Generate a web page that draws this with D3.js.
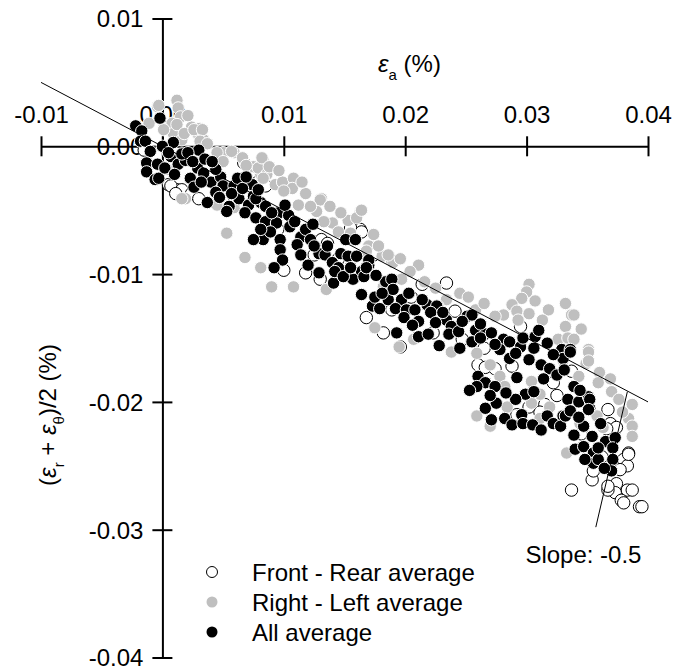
<!DOCTYPE html>
<html>
<head>
<meta charset="utf-8">
<script src="https://cdn.jsdelivr.net/npm/d3@7"></script>
<style>
  body { margin: 0; background: #fff; }
  text { font-family: "Liberation Sans", Arial, sans-serif; }
</style>
</head>
<body>
<div id="chart"></div>
<script>
// tick values
const xTicks = [-0.01, 0, 0.01, 0.02, 0.03, 0.04];
const yTicks = [0.01, 0, -0.01, -0.02, -0.03, -0.04];

// Front - Rear average (open circles), [x, y]
const frontRear = [
  [0.0005,-0.003],[0.0012,-0.0034],[0.0067,-0.0013],[0.0007,-0.0031],[0.0016,-0.0034],[0.0024,-0.0037],
  [0.003,-0.0041],[0.0011,-0.0037],[0.0059,-0.0044],[-0.0011,-0.0004],[-0.0015,-0.0003],[0.0072,-0.0021],
  [0.0085,-0.0031],[0.0131,-0.0073],[0.0125,-0.0085],[0.0118,-0.0099],[0.01,-0.0097],[0.0163,-0.0065],
  [0.0155,-0.0064],[0.0136,-0.0076],[0.013,-0.0104],[0.0164,-0.0067],[0.0168,-0.0134],[0.0182,-0.0146],
  [0.0234,-0.0107],[0.0214,-0.0108],[0.019,-0.009],[0.0196,-0.0157],[0.0223,-0.0146],[0.0247,-0.0151],
  [0.0241,-0.0129],[0.0174,-0.0085],[0.0189,-0.0128],[0.026,-0.0171],[0.0266,-0.0173],[0.0274,-0.0174],
  [0.0288,-0.0172],[0.0315,-0.0202],[0.0311,-0.0208],[0.0322,-0.0185],[0.0337,-0.0176],[0.0295,-0.0141],
  [0.0302,-0.0204],[0.0292,-0.021],[0.0367,-0.0206],[0.0369,-0.0217],[0.0374,-0.022],[0.0384,-0.024],
  [0.038,-0.0245],[0.0383,-0.025],[0.0377,-0.0253],[0.0374,-0.0264],[0.0383,-0.0269],[0.0373,-0.0271],
  [0.0378,-0.0277],[0.0387,-0.0269],[0.0393,-0.0282],[0.0367,-0.0269],[0.0354,-0.0261],[0.0337,-0.0269],
  [0.0366,-0.0221],[0.0362,-0.0243],[0.0355,-0.0254],[0.0367,-0.0266],[0.038,-0.0279],[0.0395,-0.0282],
  [0.0384,-0.0241],[0.0045,-0.0032],[0.0095,-0.0065],[0.0145,-0.0088],[0.0205,-0.0118],[0.0265,-0.0158],
  [0.0325,-0.0195],[0.0345,-0.0225]
];

// Right - Left average (grey)
const rightLeft = [
  [-0.0004,0.0031],[0.0012,0.0036],[0.0013,0.003],[0.0015,0.0023],[-0.0011,0.0018],[0.0001,0.0014],
  [0.0008,0.0018],[0.0009,0.001],[0.0024,0.0015],[0.0031,0.0014],[0.0029,0.001],[0.0016,0.0005],
  [0.0034,0.0005],[0.005,-0.0005],[0.0059,-0.0005],[0.0083,-0.0011],[0.0075,-0.0016],[0.0108,-0.0026],
  [0.0118,-0.0037],[0.0131,-0.0041],[0.0081,-0.0022],[0.0004,-0.0018],[-0.0003,0.0032],[0.0001,0.0013],
  [0.0012,0.0017],[0.0018,0.001],[0.0026,0.0013],[0.0033,0.0013],[0.0031,0.0004],[0.0045,-0.0005],
  [0.0057,-0.0004],[0.005,-0.0012],[0.0079,-0.0017],[0.0086,-0.0022],[0.0019,-0.0041],[0.0045,-0.0046],
  [0.0082,-0.0009],[0.0088,-0.0016],[0.0083,-0.0025],[0.0093,-0.003],[0.0099,-0.0028],[0.0108,-0.0025],
  [0.0107,-0.0033],[0.01,-0.0035],[0.013,-0.0042],[0.0127,-0.0051],[0.0112,-0.0046],[0.014,-0.006],
  [0.0163,-0.0051],[0.0153,-0.0058],[0.016,-0.0056],[0.0145,-0.0067],[0.0155,-0.0068],[0.017,-0.0078],
  [0.0081,-0.0095],[0.009,-0.011],[0.0108,-0.011],[0.0133,-0.0059],[0.0164,-0.005],[0.019,-0.0091],
  [0.0181,-0.0086],[0.0186,-0.0085],[0.0211,-0.0093],[0.0204,-0.0098],[0.0197,-0.0104],[0.0182,-0.011],
  [0.0245,-0.0115],[0.0234,-0.012],[0.0227,-0.0125],[0.0207,-0.0151],[0.0195,-0.0157],[0.0168,-0.0082],
  [0.0258,-0.0128],[0.0302,-0.0108],[0.03,-0.0114],[0.0296,-0.0119],[0.0288,-0.0124],[0.0307,-0.0121],
  [0.0332,-0.0123],[0.0337,-0.0132],[0.0292,-0.0129],[0.0281,-0.0132],[0.0302,-0.0131],[0.0293,-0.0136],
  [0.0332,-0.0141],[0.0326,-0.0151],[0.0334,-0.015],[0.0351,-0.0159],[0.0349,-0.017],[0.0259,-0.0162],
  [0.027,-0.0171],[0.0278,-0.018],[0.0282,-0.0188],[0.0304,-0.0184],[0.0311,-0.0194],[0.0304,-0.0201],
  [0.0284,-0.0204],[0.0259,-0.0211],[0.027,-0.0219],[0.0311,-0.0213],[0.0319,-0.0204],[0.0343,-0.018],
  [0.0339,-0.0151],[0.0351,-0.0161],[0.0351,-0.0168],[0.036,-0.0177],[0.0359,-0.0185],[0.037,-0.0192],
  [0.0387,-0.0202],[0.0384,-0.0213],[0.0387,-0.0219],[0.0387,-0.0227],[0.0363,-0.022],[0.0344,-0.0217],
  [0.0333,-0.024],[0.0358,-0.0211],[0.0016,-0.0041],[0.0053,-0.0068],[0.0068,-0.0087],[0.0059,-0.0048],
  [0.0339,-0.0132],[0.0021,0.0024],[0.0037,0.0002],[0.0066,-0.0009],[0.0069,-0.0015],[0.0096,-0.0019],
  [0.0115,-0.0028],[0.0122,-0.0047],[0.0138,-0.0047],[0.0147,-0.0052],[0.0174,-0.0069],[0.0178,-0.0078],
  [0.0196,-0.0088],[0.0216,-0.0106],[0.0225,-0.0111],[0.0252,-0.0118],[0.0265,-0.0123],[0.0274,-0.0133],
  [0.0318,-0.0128],[0.0313,-0.0136],[0.0345,-0.0143],[0.0369,-0.0182],[0.0376,-0.0198],[0.0379,-0.0208],
  [0.0135,-0.0112],[0.0175,-0.0142],[0.0238,-0.0161]
];

// All average (black)
const allAvg = [
  [-0.0002,0.0022],[-0.0022,0.0016],[-0.0017,0.0012],[-0.0018,0.0004],[-0.0014,0.0004],[-0.001,-0.0004],
  [-0.0013,-0.0013],[-0.0013,-0.002],[-0.0004,-0.0014],[-0.0006,-0.0026],[-0.0003,-0.0025],[0.0002,-0.0017],
  [0.0009,0.0003],[0.0007,-0.0008],[0.0013,-0.0014],[0.0019,-0.0011],[0.0023,-0.0025],[0.003,-0.0003],
  [0.0029,-0.0017],[0.004,-0.0028],[0.0037,-0.0044],[0.0048,-0.0024],[0.005,-0.0031],[0.0059,-0.0031],
  [0.0063,-0.0041],[0.0071,-0.0046],[0.0075,-0.0039],[0.0055,-0.0047],[0.0081,-0.0044],[0.0068,-0.0052],
  [0.0044,-0.0018],[0.0053,-0.0051],[0,0],[0.001,-0.0022],[0.0016,-0.0006],[0.0034,-0.0021],
  [0.0026,-0.0032],[0.0044,-0.0036],[0.0062,-0.0025],[0.0035,-0.001],
  [0.0074,-0.003],[0.0077,-0.0041],[0.0085,-0.0047],[0.0077,-0.0056],[0.0085,-0.0059],[0.0083,-0.0073],
  [0.0096,-0.0052],[0.0104,-0.0054],[0.0094,-0.006],[0.0089,-0.0067],[0.0097,-0.0073],[0.0105,-0.0063],
  [0.0097,-0.0081],[0.0114,-0.0071],[0.0118,-0.0065],[0.0122,-0.0073],[0.0111,-0.0077],[0.0114,-0.0085],
  [0.012,-0.0093],[0.0099,-0.0089],[0.0092,-0.0095],[0.0129,-0.0084],[0.0134,-0.0085],[0.0129,-0.0099],
  [0.014,-0.0091],[0.0145,-0.0095],[0.0151,-0.0073],[0.0159,-0.0073],[0.0147,-0.0084],[0.0153,-0.0086],
  [0.017,-0.0093],[0.0164,-0.0098],[0.0157,-0.0104],[0.0141,-0.0107],[0.0075,-0.0073],[0.0081,-0.0065],
  [0.017,-0.0089],[0.0166,-0.0102],[0.0164,-0.0116],[0.0173,-0.0125],[0.0184,-0.0106],[0.0189,-0.0104],
  [0.0175,-0.0118],[0.0186,-0.012],[0.0197,-0.012],[0.0192,-0.0127],[0.0201,-0.0128],[0.0208,-0.0128],
  [0.0199,-0.0134],[0.0211,-0.0137],[0.0218,-0.0124],[0.0226,-0.0125],[0.0221,-0.013],[0.0193,-0.0146],
  [0.0211,-0.0149],[0.0219,-0.0147],[0.0234,-0.0136],[0.0238,-0.0141],[0.0236,-0.0147],[0.0244,-0.0145],
  [0.0251,-0.0133],[0.0258,-0.0144],[0.0255,-0.0153],[0.0266,-0.0147],[0.019,-0.0112],[0.0179,-0.0127],
  [0.0168,-0.0095],[0.0228,-0.0156],[0.0245,-0.0158],
  [0.0255,-0.0132],[0.0262,-0.015],[0.0271,-0.0146],[0.0281,-0.0151],[0.0278,-0.0159],[0.0286,-0.0153],
  [0.0295,-0.0157],[0.0286,-0.0166],[0.0302,-0.0167],[0.0297,-0.015],[0.0307,-0.0149],[0.031,-0.0144],
  [0.0317,-0.0154],[0.0312,-0.0171],[0.0319,-0.0174],[0.0325,-0.0179],[0.0329,-0.0159],[0.033,-0.0167],
  [0.0336,-0.0159],[0.026,-0.018],[0.0266,-0.0185],[0.0259,-0.0188],[0.0274,-0.0188],[0.0275,-0.0201],
  [0.0266,-0.0205],[0.0292,-0.0181],[0.0299,-0.0194],[0.0291,-0.0198],[0.0296,-0.021],[0.0282,-0.0213],
  [0.0271,-0.0214],[0.0288,-0.0218],[0.0297,-0.0217],[0.0317,-0.0211],[0.0322,-0.0217],[0.033,-0.0211],
  [0.0328,-0.0219],[0.0334,-0.0198],[0.0339,-0.0188],[0.0343,-0.02],[0.0351,-0.0196],[0.0352,-0.0205],
  [0.0253,-0.0191],
  [0.033,-0.0166],[0.0336,-0.0161],[0.0331,-0.0175],[0.0344,-0.0191],[0.0352,-0.0198],[0.0351,-0.0206],
  [0.0332,-0.0211],[0.0339,-0.0226],[0.0347,-0.0219],[0.0354,-0.0227],[0.034,-0.0237],[0.0347,-0.0235],
  [0.0355,-0.024],[0.0355,-0.0248],[0.0365,-0.0231],[0.0373,-0.0228],[0.0371,-0.0236],[0.0371,-0.0245],
  [0.037,-0.0254],[0.0359,-0.0245],
  [0.0005,-0.0005],[0.0021,-0.0005],[0.0025,-0.0012],[0.0032,-0.0028],[0.0041,-0.0012],[0.0047,-0.004],
  [0.0057,-0.0037],[0.0066,-0.0033],[0.0069,-0.0024],[0.0079,-0.0034],[0.009,-0.0052],[0.0101,-0.0046],
  [0.0109,-0.0059],[0.0125,-0.0078],[0.0136,-0.0078],[0.0124,-0.0061],[0.0142,-0.0098],[0.0149,-0.0102],
  [0.0155,-0.0095],[0.016,-0.0086],[0.0176,-0.0101],[0.0181,-0.0115],[0.0203,-0.0115],[0.0214,-0.012],
  [0.0206,-0.014],[0.0225,-0.0138],[0.0231,-0.013],[0.0247,-0.0137],[0.0262,-0.0139],[0.0274,-0.0155],
  [0.0291,-0.0162],[0.0306,-0.0158],[0.0322,-0.0163],[0.0314,-0.0182],[0.0306,-0.0192],[0.0283,-0.0193],
  [0.027,-0.0195],[0.0305,-0.0218],[0.0312,-0.0222],[0.0336,-0.0207],[0.0343,-0.0212],[0.0361,-0.0217],
  [0.0359,-0.0236],[0.0364,-0.0252],[0.0348,-0.0245]
];

// reference line (slope -0.5) and the pointer to its label
const slopeLine = [[-0.01, 0.005], [0.04, -0.02]];
const pointerLine = [[0.0383, -0.0192], [0.0357, -0.0298]];
const slopeLabel = { text: 'Slope: -0.5', x: 0.0299, y: -0.0326 };

const legendNames = ['Front - Rear average', 'Right - Left average', 'All average'];

const width = 674, height = 672;
const svg = d3.select('#chart').append('svg')
  .attr('width', width)
  .attr('height', height);

const x = d3.scaleLinear().domain([-0.01, 0.04]).range([41, 648]);
const y = d3.scaleLinear().domain([0.01, -0.04]).range([18.5, 657.5]);
const fmt = d => d.toFixed(2);

// x axis through y = 0, labels above
const xAxis = svg.append('g')
  .attr('transform', `translate(0,${y(0)})`)
  .call(d3.axisTop(x).tickValues(xTicks).tickFormat(fmt).tickSizeInner(10).tickSizeOuter(0));
xAxis.select('.domain').attr('stroke-width', 2);
xAxis.selectAll('.tick line').attr('y1', 10).attr('stroke-width', 2);
xAxis.selectAll('.tick text')
  .attr('y', -23).attr('dy', 0)
  .attr('font-size', 24).attr('font-family', '"Liberation Sans", Arial, sans-serif');

// y axis through x = 0, labels left
const yAxis = svg.append('g')
  .attr('transform', `translate(${x(0)},0)`)
  .call(d3.axisLeft(y).tickValues(yTicks).tickFormat(fmt).tickSizeInner(10).tickSizeOuter(0));
yAxis.select('.domain').attr('stroke-width', 2);
yAxis.selectAll('.tick line').attr('x1', 10).attr('stroke-width', 2);
yAxis.selectAll('.tick text')
  .attr('x', -19).attr('dy', '0.35em')
  .attr('font-size', 24).attr('font-family', '"Liberation Sans", Arial, sans-serif');

// axis titles
const xTitle = svg.append('text')
  .attr('x', 378).attr('y', 72)
  .attr('font-size', 24);
xTitle.append('tspan').attr('font-style', 'italic').text('ε');
xTitle.append('tspan').attr('font-size', 15).attr('dy', 8).text('a');
xTitle.append('tspan').attr('dy', -8).text(' (%)');

const yTitle = svg.append('text')
  .attr('transform', 'translate(56,415) rotate(-90)')
  .attr('text-anchor', 'middle')
  .attr('font-size', 24);
yTitle.append('tspan').text('(');
yTitle.append('tspan').attr('font-style', 'italic').text('ε');
yTitle.append('tspan').attr('font-size', 15).attr('dy', 8).text('r');
yTitle.append('tspan').attr('dy', -8).text(' + ');
yTitle.append('tspan').attr('font-style', 'italic').text('ε');
yTitle.append('tspan').attr('font-size', 15).attr('dy', 8).text('θ');
yTitle.append('tspan').attr('dy', -8).text(')/2 (%)');

// scatter series
const series = [
  { data: frontRear, fill: '#fff', stroke: '#000' },
  { data: rightLeft, fill: '#bfbfbf', stroke: '#fff' },
  { data: allAvg, fill: '#000', stroke: '#fff' }
];

series.forEach(s => {
  svg.append('g')
    .selectAll('circle')
    .data(s.data)
    .join('circle')
    .attr('cx', d => x(d[0]))
    .attr('cy', d => y(d[1]))
    .attr('r', 6.2)
    .attr('fill', s.fill)
    .attr('stroke', s.stroke)
    .attr('stroke-width', 1);
});

// lines
const line = d3.line().x(d => x(d[0])).y(d => y(d[1]));
svg.append('path').attr('d', line(slopeLine)).attr('fill', 'none').attr('stroke', '#000').attr('stroke-width', 1);
svg.append('path').attr('d', line(pointerLine)).attr('fill', 'none').attr('stroke', '#000').attr('stroke-width', 1);

svg.append('text')
  .attr('x', x(slopeLabel.x)).attr('y', y(slopeLabel.y))
  .attr('font-size', 24)
  .text(slopeLabel.text);

// legend
const legend = svg.append('g').attr('transform', 'translate(212,572)');
legendNames.forEach((name, i) => {
  const row = legend.append('g').attr('transform', `translate(0,${i * 30})`);
  row.append('circle')
    .attr('r', 5.5)
    .attr('fill', series[i].fill)
    .attr('stroke', i === 0 ? '#000' : 'none')
    .attr('stroke-width', 1);
  row.append('text')
    .attr('x', 40).attr('y', 8.5)
    .attr('font-size', 24)
    .text(name);
});
</script>
</body>
</html>
